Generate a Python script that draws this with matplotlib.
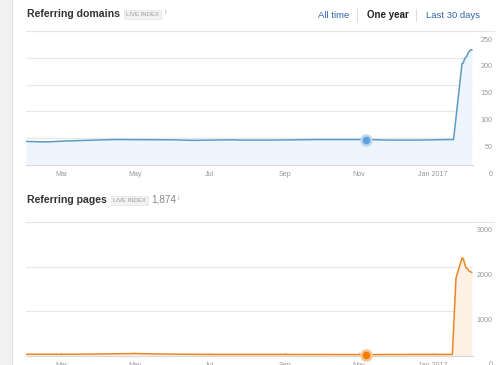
import matplotlib
matplotlib.use("Agg")
import matplotlib.pyplot as plt
import matplotlib.transforms as mtransforms
from matplotlib.lines import Line2D
from matplotlib.patches import Rectangle
import pandas as pd

plt.rcParams['font.family'] = ['Liberation Sans', 'DejaVu Sans']

# data
dom_dates = ['2016-02-01', '2016-02-17', '2016-03-07', '2016-04-14', '2016-05-31',
             '2016-06-17', '2016-07-20', '2016-07-26', '2016-08-20', '2016-09-30',
             '2016-11-07', '2016-11-24', '2016-12-21', '2017-01-15', '2017-01-18',
             '2017-01-25', '2017-01-26', '2017-01-27', '2017-01-29', '2017-01-30',
             '2017-02-01', '2017-02-02']
dom_values = [44, 43, 45, 47.5, 47, 46, 47, 46.5, 46.5, 47.5,
              47.5, 46.5, 46.5, 47.5, 47.5,
              190, 190, 198, 203, 209, 215, 215]

page_dates = ['2016-02-01', '2016-03-15', '2016-05-01', '2016-05-20', '2016-07-01',
              '2016-09-01', '2016-11-07', '2016-12-15', '2017-01-17', '2017-01-20',
              '2017-01-25', '2017-01-26', '2017-01-28', '2017-01-30', '2017-01-31',
              '2017-02-02']
page_values = [40, 40, 55, 45, 35, 35, 32, 35, 35, 1746,
               2195, 2180, 1984, 1933, 1894, 1874]

hover_date = '2016-11-07'
dom_hover = 47.5
page_hover = 32

month_ticks = ['2016-03-01', '2016-05-01', '2016-07-01', '2016-09-01', '2016-11-01', '2017-01-01']
month_labels = ['Mar', 'May', 'Jul', 'Sep', 'Nov', 'Jan 2017']
dom_yticks = [0, 50, 100, 150, 200, 250]
page_yticks = [0, 1000, 2000, 3000]
total_pages = '1,874'

W, H = 500, 365
fig = plt.figure(figsize=(W / 100, H / 100), dpi=100)
fig.patch.set_facecolor('white')


def fx(x):
    return x / W


def fy(y):
    return 1 - y / H


# grey strip on the left
fig.add_artist(Rectangle((0, 0), fx(12), 1, transform=fig.transFigure,
                         facecolor='#f1f1f1', edgecolor='none'))
fig.add_artist(Line2D([fx(12), fx(12)], [0, 1], transform=fig.transFigure,
                      color='#e2e2e2', lw=0.8))


def header(y, title, extra=None):
    t = fig.text(fx(27), fy(y), title, fontsize=7.6, fontweight='bold',
                 color='#333333', va='center', ha='left')
    fig.canvas.draw()
    bb = t.get_window_extent()
    x0 = bb.x1 + 6
    b = fig.text(fx(x0), fy(y + 0.5), 'LIVE INDEX', fontsize=4.3, color='#9a9a9a',
                 va='center', ha='left',
                 bbox=dict(boxstyle='square,pad=0.35', facecolor='#f2f2f2',
                           edgecolor='#e4e4e4', lw=0.5))
    fig.canvas.draw()
    bb = b.get_bbox_patch().get_window_extent()
    x1 = bb.x1 + 3
    if extra:
        e = fig.text(fx(x1), fy(y), extra, fontsize=7.2, color='#888888',
                     va='center', ha='left')
        fig.canvas.draw()
        x1 = e.get_window_extent().x1 + 2
    fig.text(fx(x1), fy(y - 1), 'i', fontsize=5, color='#aaaaaa', va='center', ha='left')


header(14, 'Referring domains')
header(200, 'Referring pages', total_pages)

# period switch
fig.text(fx(334), fy(15), 'All time', fontsize=6.8, color='#2f65ad', ha='center', va='center')
fig.text(fx(388), fy(15), 'One year', fontsize=7, color='#222222', fontweight='bold',
         ha='center', va='center')
fig.text(fx(453), fy(15), 'Last 30 days', fontsize=6.8, color='#2f65ad', ha='center', va='center')
for sx in [357, 416]:
    fig.add_artist(Line2D([fx(sx), fx(sx)], [fy(9), fy(21)], transform=fig.transFigure,
                          color='#dddddd', lw=0.8))

xmin = pd.Timestamp('2016-02-01')
xmax = pd.Timestamp('2017-02-03')


def panel(top, dates, values, ymax, yticks, color, fill, hover_val, halo, dot):
    ax = fig.add_axes([fx(26), fy(top + 134), fx(447), 134 / H])
    d = pd.to_datetime(dates)
    ax.fill_between(d, values, 0, color=fill, lw=0, zorder=1)
    ax.plot(d, values, color=color, lw=1.1, zorder=3)
    hd = pd.Timestamp(hover_date)
    ax.plot([hd], [hover_val], 'o', ms=9, color=halo, mec='none', zorder=4, clip_on=False)
    ax.plot([hd], [hover_val], 'o', ms=5.5, color=dot, mec='none', zorder=5, clip_on=False)
    ax.set_xlim(xmin, xmax)
    ax.set_ylim(0, ymax)
    ax.set_yticks(yticks)
    ax.yaxis.grid(True, color='#e8e8e8', lw=0.8)
    ax.set_axisbelow(True)
    ax.tick_params(axis='y', length=0, labelleft=False)
    ax.set_xticks(pd.to_datetime(month_ticks))
    ax.set_xticklabels(month_labels)
    ax.tick_params(axis='x', direction='in', length=3, width=0.7, color='#d0d0d0',
                   labelsize=5.1, labelcolor='#999999', pad=4)
    for s in ['top', 'left', 'right']:
        ax.spines[s].set_visible(False)
    ax.spines['bottom'].set_color('#d8d8d8')
    ax.spines['bottom'].set_linewidth(0.8)
    tr = mtransforms.blended_transform_factory(fig.transFigure, ax.transData)
    tr = mtransforms.offset_copy(tr, fig=fig, y=-9, units='dots')
    for v in yticks:
        ax.text(fx(493), v, str(v), transform=tr, fontsize=5.2, color='#999999',
                ha='right', va='center')
    # header rule across the panel
    fig.add_artist(Line2D([fx(26), fx(494)], [fy(top), fy(top)], transform=fig.transFigure,
                          color='#e6e6e6', lw=0.8))
    return ax


panel(31, dom_dates, dom_values, 250, dom_yticks, '#5b9bc6', '#eef5fc',
      dom_hover, '#bcd8f0', '#5ea3dc')
panel(222, page_dates, page_values, 3000, page_yticks, '#ec8524', '#fdf0e5',
      page_hover, '#f8c597', '#f47d0a')

fig.savefig('out.png', dpi=100)
